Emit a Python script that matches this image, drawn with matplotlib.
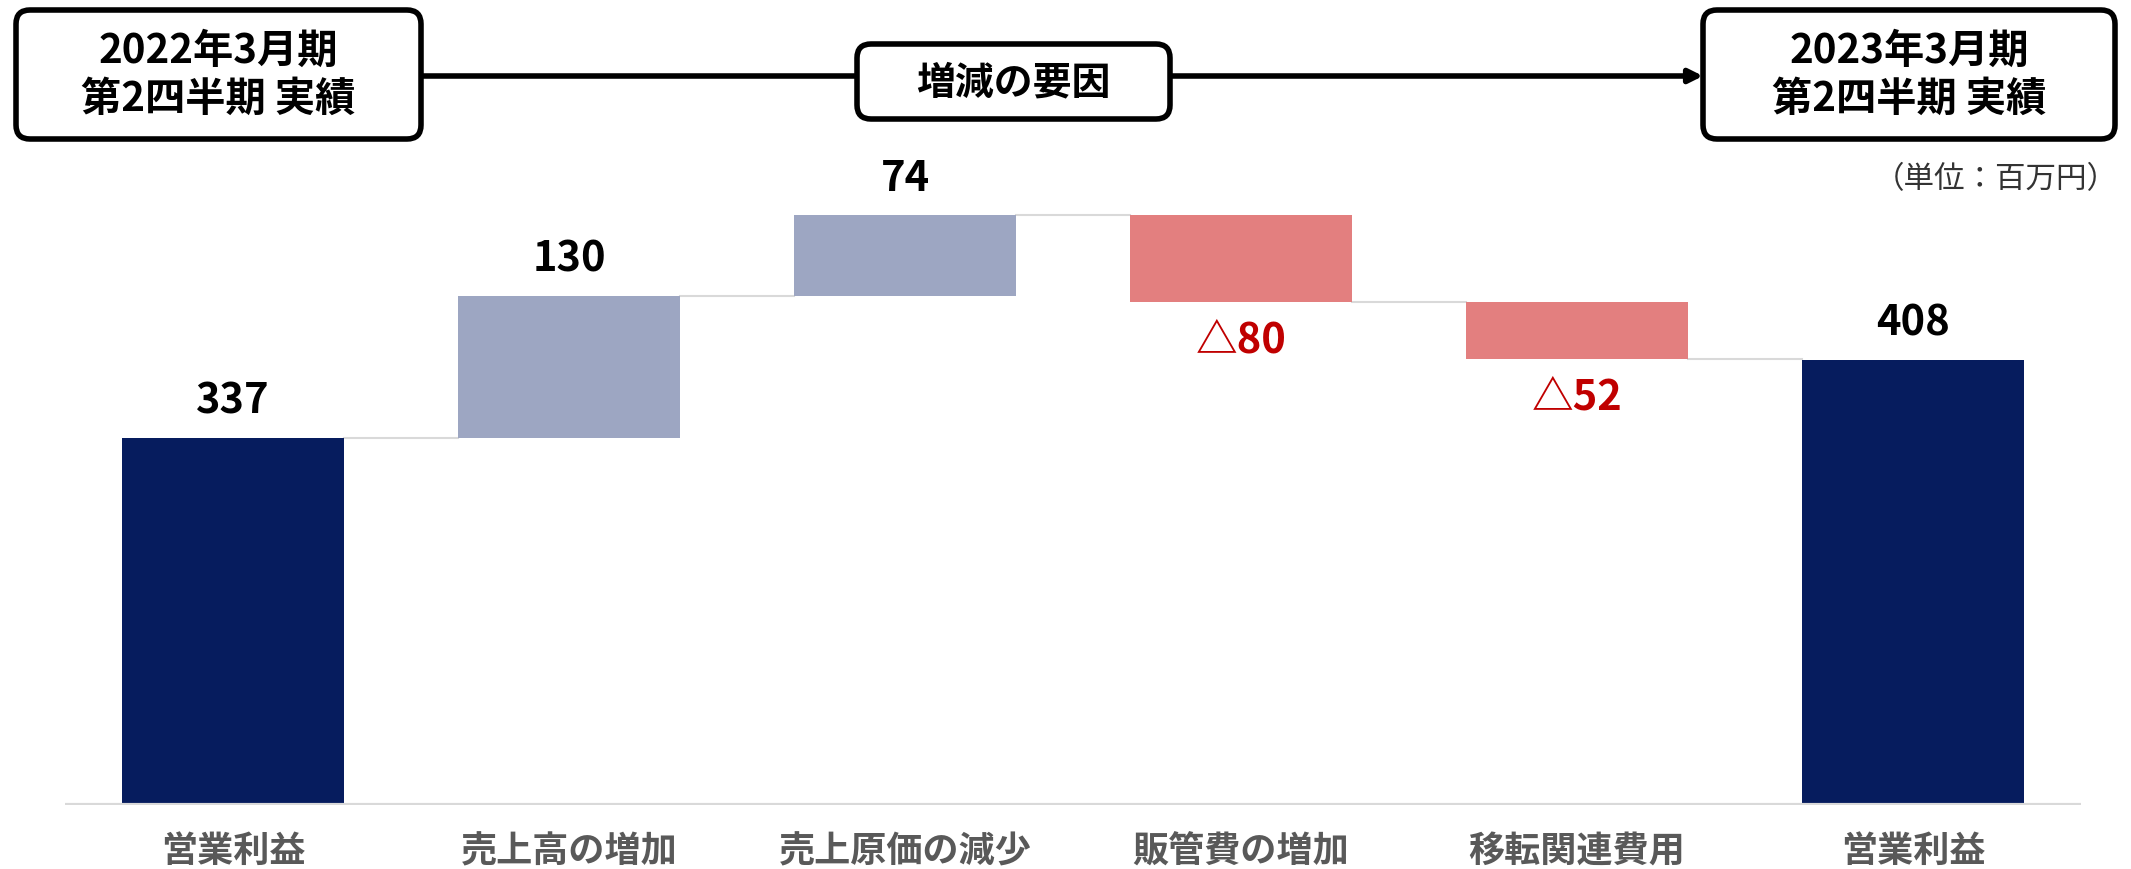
import matplotlib
matplotlib.use("Agg")
import matplotlib.pyplot as plt
from matplotlib.patches import FancyBboxPatch

plt.rcParams['font.family'] = ['Noto Sans CJK JP', 'DejaVu Sans']

# データ
categories = ['営業利益', '売上高の増加', '売上原価の減少', '販管費の増加', '移転関連費用', '営業利益']
changes = [337, 130, 74, -80, -52, 408]
labels = ['337', '130', '74', '△80', '△52', '408']
kinds = ['total', 'up', 'up', 'down', 'down', 'total']

navy = '#061C5E'
up_col = '#9DA6C2'
down_col = '#E37F7F'
red = '#C00000'
grid_gray = '#D9D9D9'

W, H = 2131, 870
fig = plt.figure(figsize=(W / 100, H / 100), dpi=100)
fig.patch.set_facecolor('white')

ax = fig.add_axes([65 / W, 64 / H, (2081 - 65) / W, 0.752])
ax.set_xlim(-0.5, len(categories) - 0.5)
ax.set_ylim(0, 600)
ax.axis('off')

bw = 0.66
level = 0
tops = []
for i, (v, k) in enumerate(zip(changes, kinds)):
    if k == 'total':
        bottom, height, col = 0, v, navy
        level = v
    elif k == 'up':
        bottom, height, col = level, v, up_col
        level = level + v
    else:
        bottom, height, col = level + v, -v, down_col
        level = level + v
    ax.bar(i, height, bottom=bottom, width=bw, color=col, zorder=3)
    tops.append((bottom, bottom + height, level))

    if k == 'down':
        ax.annotate(labels[i], (i, bottom), xytext=(0, -27), textcoords='offset points',
                    ha='center', va='center', fontsize=30, fontweight='bold',
                    color=red, annotation_clip=False)
    else:
        ax.annotate(labels[i], (i, bottom + height), xytext=(0, 27), textcoords='offset points',
                    ha='center', va='center', fontsize=30, fontweight='bold',
                    color='black', annotation_clip=False)

# 連結線
for i in range(len(categories) - 1):
    y = tops[i][2]
    ax.plot([i + bw / 2, i + 1 - bw / 2], [y, y], color=grid_gray, lw=1.5, zorder=2)

# ベースライン
ax.axhline(0, color=grid_gray, lw=3, zorder=4)

for i, c in enumerate(categories):
    ax.annotate(c, (i, 0), xytext=(0, -33), textcoords='offset points',
                ha='center', va='center', fontsize=26, fontweight='bold',
                color='#595959', annotation_clip=False)

# 上部のボックスと矢印
ov = fig.add_axes([0, 0, 1, 1])
ov.set_xlim(0, W)
ov.set_ylim(H, 0)
ov.axis('off')
ov.patch.set_alpha(0)

def box(x0, y0, x1, y1, text, fs):
    p = FancyBboxPatch((x0 + 14, y0 + 14), x1 - x0 - 28, y1 - y0 - 28,
                       boxstyle='round,pad=14', fc='white', ec='black', lw=4, zorder=5)
    ov.add_patch(p)
    ov.text((x0 + x1) / 2, (y0 + y1) / 2, text, ha='center', va='center',
            fontsize=fs, fontweight='bold', linespacing=1.2, zorder=6)

ov.plot([421, 857], [77, 77], color='black', lw=4, zorder=4)
ov.annotate('', xy=(1703, 77), xytext=(1170, 77),
            arrowprops=dict(arrowstyle='-|>,head_length=0.8,head_width=0.4',
                            color='black', lw=4, shrinkA=0, shrinkB=0), zorder=4)
box(16, 11, 421, 140, '2022年3月期\n第2四半期 実績', 29)
box(857, 45, 1170, 120, '増減の要因', 28)
box(1703, 11, 2115, 140, '2023年3月期\n第2四半期 実績', 29)

ov.text(2118, 180, '（単位：百万円）', ha='right', va='center', fontsize=22, color='#333333')

fig.savefig('out.png', dpi=100, facecolor='white')
